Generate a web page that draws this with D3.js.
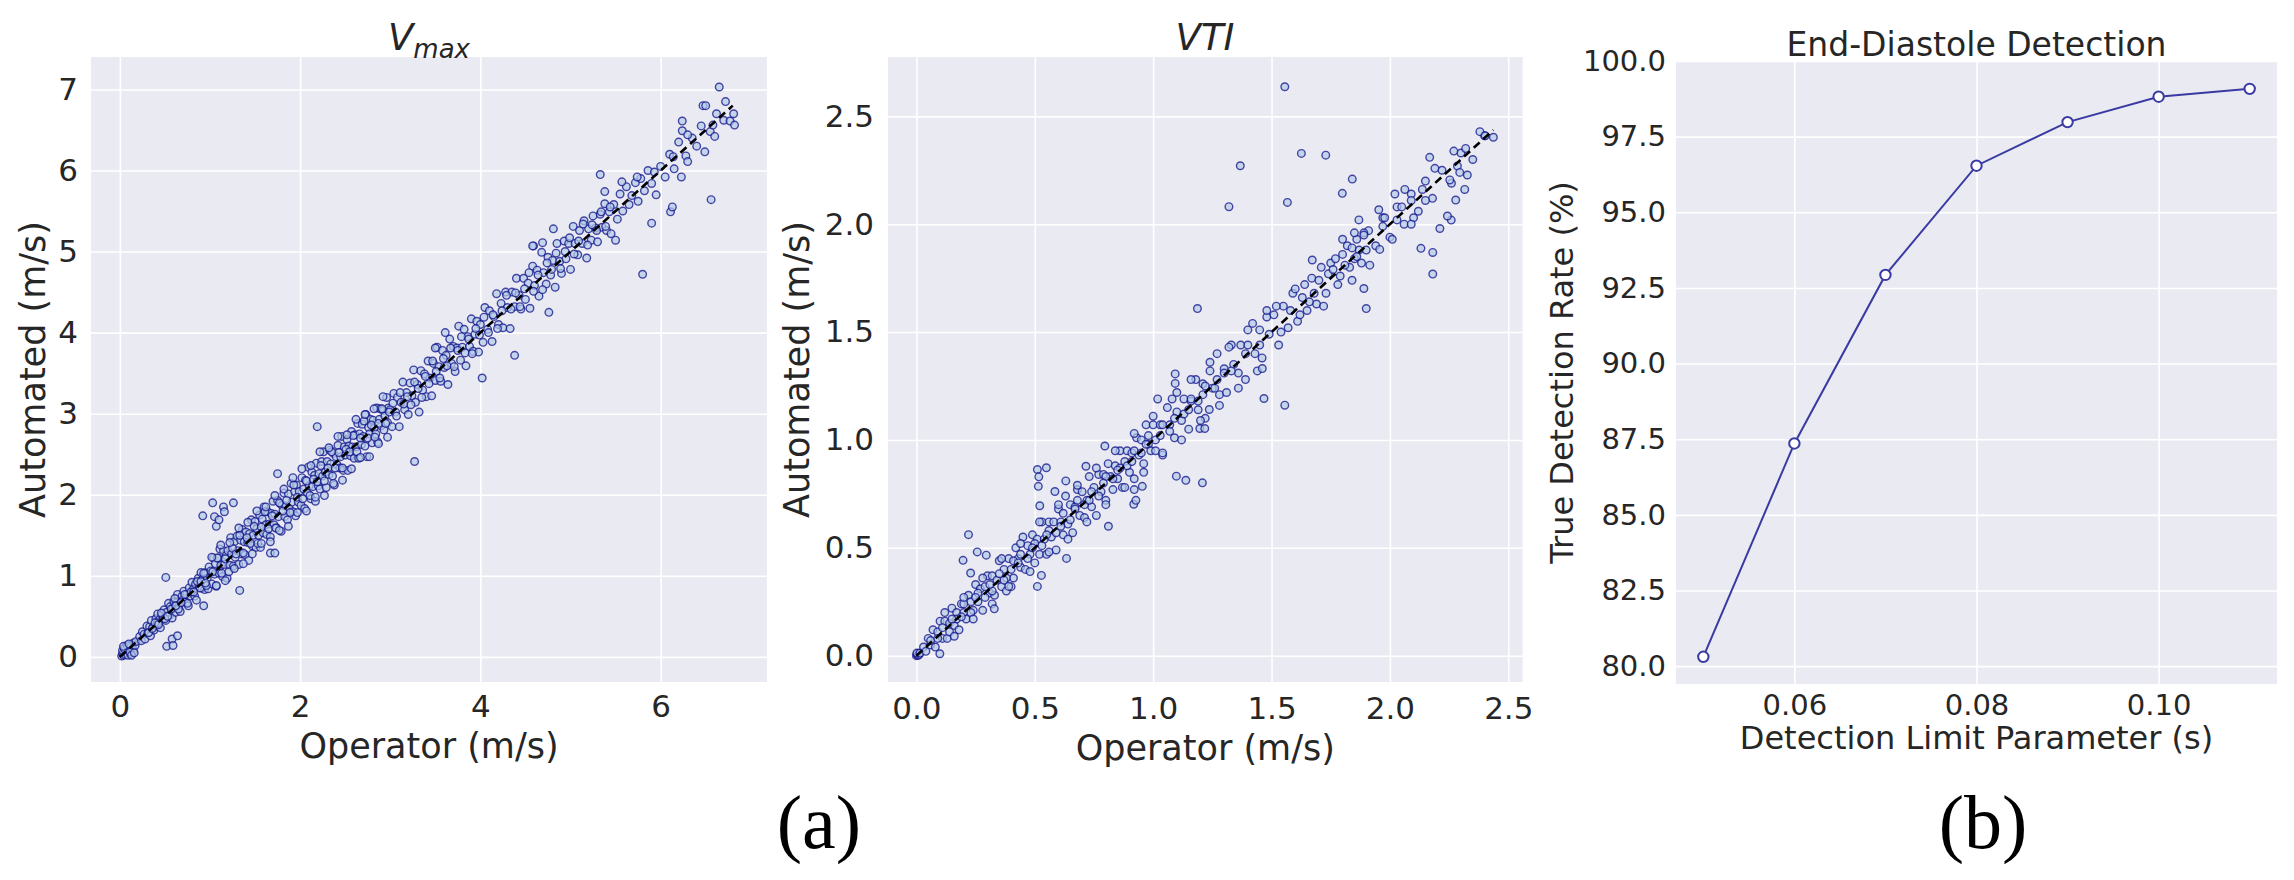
<!DOCTYPE html>
<html>
<head>
<meta charset="utf-8">
<script src="https://cdn.jsdelivr.net/npm/d3@7"></script>
<style>
	body { margin: 0; background: #ffffff; }
	text { font-family: "DejaVu Sans", sans-serif; fill: #262626; }
</style>
</head>
<body>
<svg id="chart" width="2294" height="880"></svg>
<script>

/* Vmax scatter: operator vs automated (m/s) */
let vmaxCluster = [[0.02,0.01],[0.03,0.04],[0.04,0.02],[0.05,0.06],[0.06,0.03],[0.07,0.09],[0.08,0.05],[0.09,0.11],[0.10,0.07],[0.11,0.13],[0.12,0.09],[0.13,0.15],[0.14,0.11],[0.15,0.17],[0.03,0.08],[0.06,0.12],[0.09,0.02],[0.12,0.04],[0.15,0.08],[0.17,0.14],[0.18,0.19],[0.05,0.10],[0.08,0.14],[0.11,0.06],[0.13,0.02],[0.04,0.13],[0.16,0.05],[0.10,0.16]];

let vmaxPoints = [
	[0.22,0.25],[0.24,0.20],[0.25,0.31],[0.27,0.28],[0.28,0.22],[0.30,0.38],[0.31,0.29],[0.33,0.37],[0.34,0.26],[0.35,0.45],[0.37,0.37],[0.38,0.33],[0.40,0.47],[0.41,0.38],[0.42,0.53],[0.44,0.46],[0.45,0.36],[0.47,0.52],[0.48,0.47],[0.49,0.58],[0.51,0.45],[0.52,0.55],[0.54,0.66],[0.55,0.51],[0.56,0.62],[0.58,0.48],[0.59,0.60],[0.60,0.68],[0.62,0.55],[0.63,0.67],[0.64,0.77],[0.66,0.64],[0.67,0.56],[0.69,0.75],[0.70,0.70],[0.71,0.81],[0.73,0.68],[0.74,0.77],[0.76,0.63],[0.77,0.85],[0.78,0.75],[0.80,0.92],[0.81,0.83],[0.83,0.75],[0.84,0.90],[0.85,0.70],[0.87,0.97],[0.88,0.87],[0.90,1.04],[0.91,0.85],[0.92,0.96],[0.94,0.83],[0.95,1.04],[0.97,0.97],[0.98,0.84],[0.99,1.11],
	[1.01,1.06],[1.02,0.90],[1.04,1.22],[1.05,1.02],[1.06,1.15],[1.07,0.87],[1.09,1.22],[1.10,1.03],[1.11,1.33],[1.12,1.13],[1.14,0.99],[1.15,1.31],[1.16,1.14],[1.18,1.25],[1.19,0.97],[1.20,1.31],[1.22,1.13],[1.23,1.47],[1.24,1.27],[1.26,1.12],[1.27,1.42],[1.28,1.23],[1.30,1.49],[1.31,1.31],[1.32,1.14],[1.34,1.44],[1.35,1.27],[1.36,1.57],[1.38,1.42],[1.39,1.26],[1.40,1.54],[1.42,1.41],[1.43,1.19],[1.44,1.52],[1.46,1.69],[1.47,1.37],[1.48,1.50],[1.50,1.67],[1.51,1.35],[1.52,1.58],[1.54,1.50],[1.55,1.75],[1.56,1.35],[1.58,1.70],[1.59,1.53],[1.60,1.85],[1.62,1.63],[1.63,1.51],[1.64,1.79],[1.66,1.64],[1.67,1.48],[1.68,1.77],[1.70,1.92],[1.71,1.63],[1.72,1.76],[1.74,1.59],[1.75,1.93],[1.76,1.73],[1.78,1.89],[1.79,1.55],[1.80,1.87],[1.82,2.02],[1.83,1.73],[1.84,1.86],[1.86,1.69],[1.87,2.01],[1.88,1.83],[1.90,2.14],[1.91,1.91],[1.92,1.79],[1.94,2.04],[1.95,1.74],[1.96,2.12],[1.98,1.91],[1.99,2.04],
	[2.01,1.87],[2.02,2.21],[2.04,2.07],[2.05,1.83],[2.06,2.18],[2.08,2.02],[2.09,2.34],[2.10,2.11],[2.12,1.95],[2.13,2.28],[2.14,2.10],[2.16,2.24],[2.17,1.92],[2.18,2.39],[2.20,2.11],[2.21,2.26],[2.22,2.07],[2.24,2.41],[2.25,2.23],[2.26,2.53],[2.28,2.28],[2.29,2.09],[2.30,2.41],[2.32,2.25],[2.33,2.55],[2.34,2.38],[2.36,2.23],[2.37,2.51],[2.38,2.12],[2.40,2.47],[2.41,2.37],[2.42,2.61],[2.44,2.33],[2.45,2.47],[2.46,2.72],[2.48,2.30],[2.49,2.59],[2.50,2.49],[2.52,2.68],[2.53,2.30],[2.54,2.60],[2.56,2.48],[2.57,2.78],[2.58,2.59],[2.60,2.45],[2.61,2.74],[2.62,2.59],[2.64,2.88],[2.65,2.45],[2.66,2.75],[2.68,2.62],[2.69,2.87],[2.70,2.72],[2.72,2.60],[2.73,2.99],[2.74,2.47],[2.76,2.83],[2.77,2.75],[2.78,2.93],[2.80,2.64],[2.81,2.92],[2.82,2.82],[2.84,2.75],[2.85,3.07],[2.86,2.65],[2.88,2.93],[2.89,3.06],[2.90,2.85],[2.92,3.04],[2.93,2.80],[2.94,2.97],[2.96,3.20],[2.97,2.89],[2.98,3.07],
	[3.00,3.05],[3.02,2.84],[3.04,3.25],[3.06,3.02],[3.08,3.20],[3.10,2.84],[3.12,3.14],[3.14,3.39],[3.16,3.05],[3.18,3.26],[3.20,2.99],[3.22,3.38],[3.24,3.22],[3.26,3.54],[3.28,3.14],[3.30,3.36],[3.32,3.02],[3.34,3.53],[3.36,3.29],[3.38,3.49],[3.40,3.21],[3.42,3.65],[3.44,3.44],[3.46,3.22],[3.48,3.62],[3.50,3.41],[3.52,3.82],[3.54,3.58],[3.56,3.40],[3.58,3.78],[3.60,3.57],[3.62,3.72],[3.64,3.36],[3.66,3.92],[3.68,3.62],[3.70,3.83],[3.72,3.52],[3.74,3.81],[3.76,4.08],[3.78,3.66],[3.80,3.82],[3.82,4.04],[3.84,3.59],[3.86,3.95],[3.88,3.83],[3.90,4.17],[3.92,3.77],[3.94,3.98],[3.96,4.14],[3.98,3.76],
	[4.00,4.10],[4.03,3.88],[4.05,4.31],[4.08,4.04],[4.10,4.27],[4.13,3.89],[4.15,4.20],[4.18,4.48],[4.20,4.10],[4.23,4.36],[4.25,4.06],[4.28,4.50],[4.30,4.31],[4.33,4.05],[4.35,4.50],[4.38,4.32],[4.40,4.67],[4.43,4.46],[4.45,4.29],[4.48,4.67],[4.50,4.41],[4.53,4.61],[4.55,4.30],[4.58,4.82],[4.60,4.58],[4.63,4.77],[4.65,4.45],[4.68,4.99],[4.70,4.74],[4.73,4.60],[4.75,4.93],[4.78,4.71],[4.80,4.89],[4.83,4.56],[4.85,5.10],[4.88,4.88],[4.90,4.73],[4.93,5.13],[4.95,4.91],[4.98,5.10],[5.00,4.78],[5.03,5.31],[5.05,5.10],[5.08,4.96],[5.10,5.26],[5.13,5.10],[5.15,5.38],[5.18,4.92],[5.20,5.28],[5.23,5.14],[5.25,5.44],[5.28,5.29],[5.30,5.12],[5.33,5.46],[5.35,5.30],[5.38,5.59],[5.40,5.26],[5.43,5.49],[5.45,5.22],[5.48,5.58],
	[5.52,5.40],[5.55,5.71],[5.58,5.50],[5.62,5.80],[5.65,5.58],[5.68,5.69],[5.72,5.85],[5.75,5.62],[5.78,5.90],[5.82,5.75],[5.86,6.00],[5.90,5.84],[5.95,5.70],[6.00,6.05],[6.05,5.92],[6.10,6.20],[6.15,6.02],[6.20,6.35],[6.28,6.18],[6.35,6.40],[6.40,6.30],[6.45,6.55],[6.55,6.48],[6.62,6.70],[6.70,6.62],
	[0.42,0.42],[0.46,0.54],[0.50,0.47],[0.57,0.59],[0.61,0.72],[0.65,0.59],[0.72,0.77],[0.75,0.66],[0.79,0.80],[0.86,0.93],[0.89,0.85],[0.93,1.03],[0.96,0.88],[1.03,1.05],[1.08,1.22],[1.13,1.03],[1.17,1.21],[1.21,1.05],[1.25,1.34],[1.29,1.27],[1.33,1.50],[1.37,1.28],[1.41,1.47],[1.45,1.40],[1.49,1.61],[1.53,1.40],[1.57,1.60],[1.61,1.79],[1.65,1.58],[1.69,1.74],[1.73,1.59],[1.77,1.90],[1.81,1.80],[1.85,1.93],[1.89,1.78],[1.93,2.12],[1.97,1.97],[2.03,1.95],[2.07,2.17],[2.11,1.99],[2.15,2.19],[2.19,2.16],[2.23,2.36],[2.27,2.17],[2.31,2.33],[2.35,2.53],[2.39,2.33],[2.43,2.52],[2.47,2.33],[2.51,2.56],[2.55,2.53],[2.59,2.73],[2.63,2.53],[2.67,2.70],[2.71,2.91],[2.75,2.70],[2.79,2.86],[2.83,2.71],[2.87,2.88],[2.91,3.06],[2.95,2.88],[2.99,3.02],
	[0.32,0.30],[0.36,0.35],[0.39,0.42],[0.43,0.40],[0.53,0.50],[0.62,0.63],[0.68,0.67],[0.82,0.80],[0.90,0.93],[0.95,0.91],
	[1.02,1.23],[1.07,0.88],[1.12,1.38],[1.17,0.94],[1.22,1.41],[1.27,1.09],[1.32,1.59],[1.37,1.15],[1.42,1.66],[1.47,1.27],[1.52,1.80],[1.57,1.40],[1.62,1.85],[1.67,1.42],[1.72,1.99],[1.77,1.56],[1.82,2.07],[1.87,1.61],[1.92,2.21],[1.97,1.78],[2.02,2.32],[2.07,1.80],[2.12,2.36],[2.17,1.97],[2.22,2.53],[2.27,1.99],[2.32,2.58],[2.37,2.14],[2.42,2.72],[2.47,2.18],[2.52,2.74],[2.57,2.32],[2.62,2.93],[2.67,2.46],[2.72,2.99],[2.77,2.47],[2.82,3.06],[2.87,2.63],[2.92,3.21],[2.97,2.71],
	[3.03,3.13],[3.07,2.97],[3.11,3.26],[3.15,3.12],[3.19,3.21],[3.23,3.11],[3.27,3.39],[3.31,3.31],[3.35,3.20],[3.39,3.46],[3.43,3.37],[3.47,3.65],[3.51,3.52],[3.55,3.44],[3.59,3.68],[3.63,3.59],[3.67,3.81],[3.71,3.58],[3.75,3.78],[3.79,3.95],[3.83,3.75],[3.87,3.92],[3.91,3.74],[3.95,4.05],[3.99,3.97],
	[4.04,4.19],[4.09,4.00],[4.14,4.22],[4.19,4.05],[4.24,4.27],[4.29,4.46],[4.34,4.29],[4.39,4.49],[4.44,4.32],[4.49,4.54],[4.54,4.74],[4.59,4.51],[4.64,4.71],[4.69,4.53],[4.74,4.86],[4.79,4.78],[4.84,4.98],[4.89,4.79],[4.94,5.00],[4.99,5.17],[5.04,4.97],[5.09,5.13],[5.14,5.34],[5.19,5.08],[5.24,5.33],[5.29,5.26],[5.34,5.49],[5.39,5.31],[5.44,5.55]
];

let vmaxOutliers = [[0.92,1.74],[1.03,1.90],[1.05,1.73],[1.07,1.61],[1.10,1.69],[1.15,1.85],[1.16,1.79],[1.26,1.90],[0.51,0.98],[1.33,0.82],[0.93,0.63],[0.52,0.13],[0.58,0.22],[0.59,0.14],[0.64,0.26],[2.19,2.84],[1.67,1.28],[1.72,1.28],[4.76,4.25],[4.38,3.72],[4.02,3.44],[3.27,2.41],[1.75,2.26],[4.59,5.07],[4.69,5.11],[4.81,5.28],[3.61,4.00],[3.50,3.81],[6.65,7.03],[6.72,6.85],[6.47,6.80],[6.50,6.80],[6.58,6.56],[6.77,6.61],[6.82,6.56],[6.81,6.70],[6.24,6.61],[6.24,6.49],[6.30,6.44],[6.60,6.42],[6.56,5.64],[6.49,6.23],[5.80,4.72],[5.33,5.95],[6.11,5.49],[6.13,5.55],[6.23,5.92],[5.90,5.35],[5.57,5.86],[5.74,5.92],[5.93,5.98],[6.14,6.17],[6.30,6.11],[5.38,5.74],[5.50,5.14],[4.58,5.07]];

let vmaxLine = [0, 6.8];

/* VTI scatter: operator vs automated (m/s) */
let vtiCluster = [[0.00,0.00],[0.005,0.003],[0.01,0.01],[0.003,0.008],[0.008,0.002],[0.012,0.006],[0.002,0.012],[0.015,0.012]];

let vtiPoints = [
	[0.03,0.04],[0.04,0.02],[0.05,0.08],[0.06,0.05],[0.07,0.12],[0.08,0.04],[0.09,0.11],[0.10,0.16],[0.11,0.08],[0.12,0.16],[0.13,0.08],[0.14,0.15],[0.15,0.22],[0.16,0.14],[0.17,0.20],[0.18,0.12],[0.19,0.24],[0.20,0.20],[0.21,0.17],[0.22,0.28],[0.23,0.25],[0.24,0.21],[0.25,0.33],[0.26,0.25],[0.27,0.31],[0.28,0.21],[0.29,0.32],[0.30,0.37],[0.31,0.29],[0.32,0.37],[0.33,0.28],[0.34,0.35],[0.35,0.44],[0.36,0.32],[0.37,0.40],[0.38,0.30],[0.39,0.45],[0.40,0.40],[0.41,0.36],[0.42,0.50],[0.43,0.45],[0.44,0.41],[0.45,0.55],[0.46,0.40],[0.47,0.51],[0.48,0.47],[0.49,0.56],[0.50,0.43],
	[0.51,0.54],[0.52,0.47],[0.53,0.62],[0.54,0.54],[0.55,0.47],[0.56,0.62],[0.57,0.55],[0.58,0.62],[0.59,0.49],[0.60,0.68],[0.61,0.62],[0.62,0.56],[0.63,0.74],[0.64,0.61],[0.65,0.70],[0.66,0.57],[0.67,0.69],[0.68,0.77],[0.69,0.65],[0.70,0.76],[0.71,0.64],[0.72,0.72],[0.73,0.83],[0.74,0.69],[0.75,0.78],[0.76,0.65],[0.77,0.84],[0.78,0.76],[0.79,0.84],[0.80,0.72],[0.81,0.89],[0.82,0.83],[0.83,0.77],[0.84,0.88],[0.85,0.82],[0.86,0.95],[0.87,0.78],[0.88,0.90],[0.89,0.95],[0.90,0.85],[0.91,0.94],[0.92,0.82],[0.93,1.01],[0.94,0.93],[0.95,1.00],[0.96,0.89],[0.97,1.07],[0.98,0.98],[0.99,0.95],[1.00,1.07],
	[1.01,0.95],[1.03,1.07],[1.04,0.93],[1.06,1.15],[1.07,1.07],[1.09,1.01],[1.10,1.22],[1.12,1.09],[1.13,1.19],[1.15,1.05],[1.16,1.18],[1.18,1.28],[1.19,1.14],[1.21,1.26],[1.22,1.10],[1.24,1.32],[1.25,1.24],[1.27,1.40],[1.28,1.21],[1.30,1.33],[1.31,1.22],[1.33,1.44],[1.34,1.35],[1.36,1.31],[1.37,1.44],[1.39,1.28],[1.40,1.44],[1.42,1.54],[1.43,1.40],[1.45,1.51],[1.46,1.38],[1.48,1.57],[1.49,1.49],
	[1.51,1.58],[1.53,1.44],[1.55,1.62],[1.57,1.52],[1.59,1.68],[1.61,1.55],[1.63,1.66],[1.65,1.60],[1.67,1.75],[1.69,1.63],[1.71,1.80],[1.73,1.68],[1.75,1.82],[1.78,1.72],[1.80,1.86],[1.83,1.80],[1.86,1.93],[1.88,1.82],[1.91,1.97],[1.94,1.90],[1.97,2.03],[2.00,1.94],[2.03,2.08],[2.06,2.00],[2.09,2.14],[2.12,2.06],[2.15,2.20],[2.18,2.12],[2.22,2.25],[2.26,2.19],[2.30,2.33],[2.35,2.30],[2.40,2.41],
	[0.11,0.13],[0.14,0.11],[0.17,0.17],[0.20,0.24],[0.23,0.20],[0.26,0.29],[0.29,0.27],[0.32,0.30],[0.35,0.38],[0.38,0.36],[0.41,0.44],[0.44,0.47],[0.47,0.45],[0.50,0.52],[0.53,0.51],[0.56,0.58],[0.59,0.57],[0.62,0.66],[0.65,0.63],[0.68,0.72],[0.71,0.70],[0.74,0.76],[0.77,0.74],[0.80,0.83],[0.83,0.82],[0.86,0.87],[0.89,0.88],[0.92,0.95],[0.95,0.94],[0.98,1.02],[1.01,1.00],[1.04,1.07],[1.07,1.04],[1.10,1.13],[1.13,1.12],[1.16,1.19],[1.19,1.18],[1.22,1.25],[1.26,1.24],[1.30,1.31],
	[1.52,1.62],[1.54,1.50],[1.58,1.60],[1.60,1.70],[1.62,1.58],[1.64,1.72],[1.66,1.64],[1.68,1.68],[1.70,1.74],[1.72,1.62],[1.74,1.77],[1.77,1.84],[1.79,1.76],[1.81,1.81],[1.82,1.90],[1.85,1.84],[1.87,1.88],[1.89,1.96],
	[0.12,0.20],[0.16,0.09],[0.20,0.27],[0.24,0.17],[0.28,0.36],[0.32,0.24],[0.36,0.45],[0.40,0.32],[0.44,0.52],[0.48,0.39],[0.52,0.62],[0.56,0.48],[0.60,0.70],[0.64,0.54],[0.68,0.79],[0.72,0.62],[0.76,0.87],[0.80,0.70],[0.84,0.95],[0.88,0.78],[0.92,1.03],[0.96,0.85],[1.00,1.11],[1.04,0.94],[1.08,1.19],[1.12,1.00],[1.16,1.28],[1.20,1.09],[1.24,1.36],[1.28,1.16],[1.32,1.43],[1.36,1.24],[1.40,1.51],[1.44,1.32],[1.48,1.60],
	[0.06,0.07],[0.09,0.08],[0.15,0.17],[0.19,0.18],[0.25,0.27],[0.31,0.33],[0.37,0.35],[0.43,0.43],[0.49,0.50],[0.55,0.56],[0.61,0.60],[0.67,0.68],[0.73,0.72],[0.79,0.80],[0.85,0.86],[0.91,0.90],[0.97,0.98],[1.03,1.02],[1.09,1.10],[1.15,1.14],[1.21,1.21],[1.27,1.28],[1.33,1.32],[1.39,1.40],[1.45,1.44]
];

let vtiOutliers = [[1.556,2.637],[1.368,2.271],[1.320,2.081],[1.626,2.328],[1.729,2.320],[1.841,2.209],[1.799,2.143],[1.567,2.101],[1.187,1.609],[1.900,1.609],[1.890,1.702],[2.131,1.888],[2.181,1.869],[2.181,1.769],[2.211,1.980],[2.259,2.019],[2.243,2.038],[2.278,2.112],[2.316,2.161],[2.327,2.228],[2.270,2.339],[2.320,2.351],[2.168,2.310],[2.190,2.259],[2.380,2.429],[2.437,2.403],[2.402,2.410],[2.285,2.270],[2.253,2.205],[2.295,2.240],[2.137,2.161],[2.063,2.161],[2.021,2.140],[2.05,2.08],[2.09,2.11],[2.15,2.11],[2.10,2.03],[2.09,2.00],[2.03,2.02],[1.978,2.03],[1.953,2.067],[1.97,1.99],[1.957,1.883],[2.01,1.93],[1.915,1.810],[1.869,2.02],[1.80,1.93],[1.84,1.89],[1.86,1.85],[1.85,1.96],[1.89,1.95],[1.90,1.88],[1.672,1.834],[1.76,1.79],[1.84,1.74],[1.468,1.192],[1.556,1.161],[1.197,1.053],[1.218,1.053],[1.098,0.832],[1.138,0.813],[1.208,0.801],[0.918,0.702],[0.927,0.72],[0.92,0.77],[0.954,0.785],[0.796,0.972],[0.716,0.878],[0.511,0.863],[0.549,0.871],[0.517,0.829],[0.515,0.785],[0.521,0.695],[0.631,0.810],[0.585,0.761],[0.811,0.60],[0.634,0.451],[0.511,0.321],[0.528,0.372],[0.220,0.561],[0.257,0.481],[0.197,0.442],[0.229,0.383],[0.295,0.466],[0.390,0.321],[0.329,0.217],[0.099,0.009],[1.461,1.331],[1.237,1.141],[1.093,1.306],[1.093,1.262],[1.019,1.19]];

let vtiLine = [0, 2.437];

/* End-diastole detection curve */
let detectionLimit = [0.05, 0.06, 0.07, 0.08, 0.09, 0.10, 0.11];
let trueDetectionRate = [80.31, 87.36, 92.93, 96.54, 97.98, 98.82, 99.08];

/* Tick values */
let vmaxXTicks = [0, 2, 4, 6];
let vmaxYTicks = [0, 1, 2, 3, 4, 5, 6, 7];
let vtiTicks = [0, 0.5, 1.0, 1.5, 2.0, 2.5];
let detectionXTicks = [0.06, 0.08, 0.10];
let detectionYTicks = [80, 82.5, 85, 87.5, 90, 92.5, 95, 97.5, 100];

let svg = d3.select("#chart");

/**
 * Draw a seaborn-style panel: background, grid and tick labels.
 *
 * @param {Object} o - Panel options.
 * @returns {Object} - Group and scales.
 */
function panel(o) {
	let x = d3.scaleLinear().domain(o.xDomain).range([0, o.width]);
	let y = d3.scaleLinear().domain(o.yDomain).range([o.height, 0]);

	let g = svg.append("g").attr("transform", `translate(${o.left},${o.top})`);

	g.append("rect")
		.attr("width", o.width)
		.attr("height", o.height)
		.attr("fill", "#eaeaf2");

	let xAxis = g.append("g")
		.attr("transform", `translate(0,${o.height})`)
		.call(d3.axisBottom(x).tickValues(o.xTicks).tickFormat(o.xFormat).tickSize(-o.height).tickPadding(o.padX));

	let yAxis = g.append("g")
		.call(d3.axisLeft(y).tickValues(o.yTicks).tickFormat(o.yFormat).tickSize(-o.width).tickPadding(o.padY));

	[xAxis, yAxis].forEach(function(a) {
		a.select(".domain").remove();
		a.selectAll("line").attr("stroke", "#ffffff").attr("stroke-width", 1.6);
		a.selectAll("text")
			.attr("fill", "#262626")
			.style("font-family", "'DejaVu Sans', sans-serif")
			.style("font-size", o.tickSize + "px");
	});

	let clipId = "clip-" + o.name;
	g.append("clipPath").attr("id", clipId)
		.append("rect").attr("width", o.width).attr("height", o.height);

	let plot = g.append("g").attr("clip-path", `url(#${clipId})`);

	// Axis labels
	svg.append("text")
		.attr("x", o.left + o.width / 2)
		.attr("y", o.xLabelY)
		.attr("text-anchor", "middle")
		.style("font-size", o.labelSize + "px")
		.text(o.xLabel);

	svg.append("text")
		.attr("transform", `translate(${o.yLabelX},${o.top + o.height / 2}) rotate(-90)`)
		.attr("text-anchor", "middle")
		.style("font-size", o.labelSize + "px")
		.text(o.yLabel);

	return { g: g, plot: plot, x: x, y: y };
}

/**
 * Scatter with identity line.
 */
function scatter(p, points, line) {
	p.plot.selectAll("circle.pt")
		.data(points)
		.enter()
		.append("circle")
		.attr("class", "pt")
		.attr("cx", function(d) { return p.x(d[0]); })
		.attr("cy", function(d) { return p.y(d[1]); })
		.attr("r", 3.8)
		.attr("fill", "#b4cce8")
		.attr("fill-opacity", 0.7)
		.attr("stroke", "#10108a")
		.attr("stroke-opacity", 0.75)
		.attr("stroke-width", 1.4);

	p.plot.append("line")
		.attr("x1", p.x(line[0]))
		.attr("y1", p.y(line[0]))
		.attr("x2", p.x(line[1]))
		.attr("y2", p.y(line[1]))
		.attr("stroke", "#000000")
		.attr("stroke-width", 2.6)
		.attr("stroke-dasharray", "8,5");
}

// Vmax
let p1 = panel({
	name: "vmax", left: 91, top: 57, width: 676, height: 625,
	xDomain: [-0.32, 7.18], yDomain: [-0.31, 7.40],
	xTicks: vmaxXTicks, yTicks: vmaxYTicks,
	xFormat: d3.format("d"), yFormat: d3.format("d"),
	padX: 13, padY: 13, tickSize: 31, labelSize: 35,
	xLabel: "Operator (m/s)", xLabelY: 758,
	yLabel: "Automated (m/s)", yLabelX: 45
});
scatter(p1, vmaxCluster.concat(vmaxPoints, vmaxOutliers), vmaxLine);

let t1 = svg.append("text")
	.attr("x", 429)
	.attr("y", 50)
	.attr("text-anchor", "middle")
	.style("font-style", "italic");
t1.append("tspan").style("font-size", "37px").text("V");
t1.append("tspan").style("font-size", "26px").attr("dy", 8).text("max");

// VTI
let p2 = panel({
	name: "vti", left: 888, top: 57, width: 634.5, height: 625,
	xDomain: [-0.12, 2.56], yDomain: [-0.122, 2.775],
	xTicks: vtiTicks, yTicks: vtiTicks,
	xFormat: d3.format(".1f"), yFormat: d3.format(".1f"),
	padX: 15, padY: 14, tickSize: 31, labelSize: 35,
	xLabel: "Operator (m/s)", xLabelY: 760,
	yLabel: "Automated (m/s)", yLabelX: 809
});
scatter(p2, vtiCluster.concat(vtiPoints, vtiOutliers), vtiLine);

svg.append("text")
	.attr("x", 1205)
	.attr("y", 50)
	.attr("text-anchor", "middle")
	.style("font-style", "italic")
	.style("font-size", "37px")
	.text("VTI");

// End-Diastole Detection
let p3 = panel({
	name: "ed", left: 1676, top: 61, width: 601, height: 623,
	xDomain: [0.047, 0.113], yDomain: [79.41, 100.0],
	xTicks: detectionXTicks, yTicks: detectionYTicks,
	xFormat: d3.format(".2f"), yFormat: d3.format(".1f"),
	padX: 10, padY: 10, tickSize: 29, labelSize: 32,
	xLabel: "Detection Limit Parameter (s)", xLabelY: 749,
	yLabel: "True Detection Rate (%)", yLabelX: 1573
});

let edData = detectionLimit.map(function(d, i) { return [d, trueDetectionRate[i]]; });

p3.g.append("path")
	.datum(edData)
	.attr("fill", "none")
	.attr("stroke", "#3a3aa3")
	.attr("stroke-width", 2)
	.attr("d", d3.line().x(function(d) { return p3.x(d[0]); }).y(function(d) { return p3.y(d[1]); }));

p3.g.selectAll("circle.ed")
	.data(edData)
	.enter()
	.append("circle")
	.attr("class", "ed")
	.attr("cx", function(d) { return p3.x(d[0]); })
	.attr("cy", function(d) { return p3.y(d[1]); })
	.attr("r", 5.2)
	.attr("fill", "#ffffff")
	.attr("stroke", "#3a3aa3")
	.attr("stroke-width", 2);

svg.append("text")
	.attr("x", 1976.5)
	.attr("y", 56)
	.attr("text-anchor", "middle")
	.style("font-size", "33px")
	.text("End-Diastole Detection");

// Figure labels
svg.selectAll("text.fig")
	.data([["(a)", 819], ["(b)", 1983]])
	.enter()
	.append("text")
	.attr("class", "fig")
	.attr("x", function(d) { return d[1]; })
	.attr("y", 848)
	.attr("text-anchor", "middle")
	.style("font-family", "'Liberation Serif', 'Times New Roman', serif")
	.style("font-size", "76px")
	.style("fill", "#000000")
	.text(function(d) { return d[0]; });

</script>
</body>
</html>
